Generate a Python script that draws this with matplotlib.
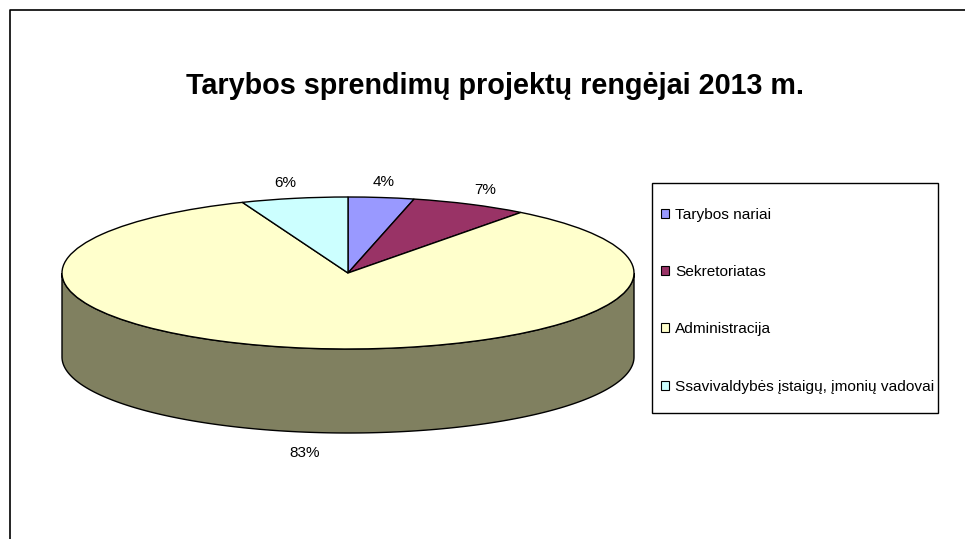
import numpy as np
import matplotlib
matplotlib.use("Agg")
import matplotlib.pyplot as plt
from matplotlib.lines import Line2D
from matplotlib.patches import Rectangle

plt.rcParams['font.family'] = ['Liberation Sans', 'DejaVu Sans']

title = "Tarybos sprendimų projektų rengėjai 2013 m."
categories = ["Tarybos nariai", "Sekretoriatas", "Administracija",
              "Ssavivaldybės įstaigų, įmonių vadovai"]
shares = [3.7, 6.6, 83.4, 6.0]
slice_colors = ['#9999FF', '#993366', '#FFFFCC', '#CCFFFF']
side_color = '#808060'

W, H = 965, 539
fig = plt.figure(figsize=(W / 100, H / 100), dpi=100)
ax = fig.add_axes([0, 0, 1, 1])

# pie is squashed, one unit is 286 px across and 76 px down
cx, cy, rx, ry = 348, 273, 286, 76
depth = 84 / ry

wedges, _ = ax.pie(shares, colors=slice_colors, startangle=90, counterclock=False,
                   wedgeprops=dict(edgecolor='black', linewidth=1, zorder=3))

# side wall under the front half
t = np.linspace(np.pi, 2 * np.pi, 200)
xs = np.concatenate([np.cos(t), np.cos(t[::-1])])
ys = np.concatenate([np.sin(t), np.sin(t[::-1]) - depth])
ax.fill(xs, ys, facecolor=side_color, edgecolor='black', linewidth=1, zorder=2)

ax.set_aspect('auto')
ax.set_xlim(-cx / rx, (W - cx) / rx)
ax.set_ylim((cy - H) / ry, cy / ry)
ax.axis('off')

# percent labels go just outside the rim
fractions = np.array(shares) / sum(shares)
angles = 90 - 360 * (np.cumsum(fractions) - fractions / 2)
offsets = [(1.07, 1.21), (1.12, 1.21), (1.0, -1.0), (1.16, 1.21)]
for share, ang, (ox, oy) in zip(shares, angles, offsets):
    px = np.cos(np.radians(ang)) * ox
    py = np.sin(np.radians(ang)) * oy
    if share > 50:
        px, py = -0.15, -depth - 1.26
    ax.text(px, py, f"{share:.0f}%", ha='center', va='center', fontsize=11, color='black')

fig.text(495.5 / W, 1 - 86 / H, title, ha='center', va='center', fontsize=20.7, fontweight='bold')

# only top and left edge of the chart frame show
fig.add_artist(Line2D([9.5 / W, 9.5 / W, 1], [0, 1 - 10 / H, 1 - 10 / H], color='black', linewidth=1.2))

# legend box is drawn apart, its padding differs across and down
fig.add_artist(Rectangle((652 / W, 1 - 413 / H), 286 / W, 230 / H, transform=fig.transFigure,
                         facecolor='white', edgecolor='black', linewidth=1))
handles = [Rectangle((0, 0), 1, 1, facecolor=c, edgecolor='black', linewidth=0.8) for c in slice_colors]
leg = fig.legend(handles, categories, loc='upper left',
                 bbox_to_anchor=(661 / W, 1 - 208 / H), fontsize=11.1,
                 frameon=False, handlelength=0.52, handleheight=0.52, handletextpad=0.4,
                 labelspacing=2.8, borderpad=0, borderaxespad=0)

fig.savefig("out.png", dpi=100)
